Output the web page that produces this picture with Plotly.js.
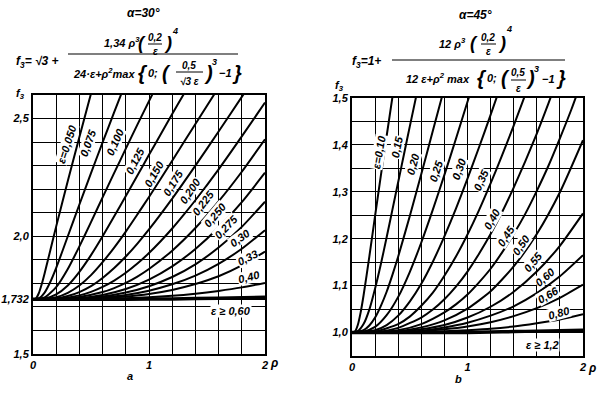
<!DOCTYPE html>
<html><head><meta charset="utf-8">
<script src="https://cdn.plot.ly/plotly-3.0.1.min.js"></script>
<style>html,body{margin:0;padding:0;background:#fff}#chart{width:603px;height:394px}</style>
</head><body><div id="chart"></div>
<script>
// ---------- DATA ----------
// Panel a (alpha = 30 deg): curve labels, rho values, f3 values
const leftLabels = ['ε=0,050','0,075','0,100','0,125','0,150','0,175','0,200','0,225','0,250','0,275','0,30','0,33','0,40','ε ≥ 0,60'];
const leftRho = [
  [0,0.025,0.05,0.075,0.1,0.125,0.15,0.2,0.3,0.4,0.5,0.55],
  [0,0.05,0.1,0.15,0.2,0.25,0.3,0.4,0.5,0.6,0.7,0.8],
  [0,0.1,0.2,0.3,0.4,0.5,0.6,0.7,0.8,0.9,1.0,1.1],
  [0,0.1,0.2,0.3,0.4,0.5,0.6,0.7,0.8,0.9,1.0,1.1,1.2,1.3,1.4],
  [0,0.1,0.2,0.3,0.4,0.5,0.6,0.7,0.8,0.9,1.0,1.2,1.4,1.6],
  [0,0.2,0.3,0.4,0.5,0.6,0.7,0.8,0.9,1.0,1.2,1.4,1.6,1.8,2.0],
  [0,0.2,0.4,0.5,0.6,0.7,0.8,0.9,1.0,1.1,1.2,1.3,1.4,1.6,1.8,2.0],
  [0,0.2,0.4,0.6,0.7,0.8,0.9,1.0,1.2,1.4,1.6,1.8,2.0],
  [0,0.2,0.4,0.6,0.8,1.0,1.2,1.4,1.6,1.8,2.0],
  [0,0.2,0.4,0.6,0.8,1.0,1.2,1.4,1.6,1.8,2.0],
  [0,0.4,0.6,0.8,1.0,1.2,1.4,1.6,1.8,2.0],
  [0,0.4,0.6,0.8,1.0,1.2,1.4,1.6,1.8,2.0],
  [0,0.4,0.8,1.0,1.2,1.4,1.6,1.8,2.0],
  [0,0.8,1.2,1.6,2.0]
];
const leftF = [
  [1.732,1.736,1.758,1.796,1.842,1.892,1.942,2.042,2.235,2.422,2.606,2.698],
  [1.732,1.736,1.761,1.807,1.866,1.932,2.000,2.135,2.268,2.399,2.527,2.654],
  [1.732,1.740,1.784,1.861,1.957,2.060,2.165,2.269,2.372,2.474,2.574,2.674],
  [1.732,1.735,1.753,1.791,1.849,1.920,2.000,2.085,2.171,2.258,2.346,2.432,2.519,2.604,2.689],
  [1.732,1.733,1.741,1.760,1.791,1.835,1.890,1.952,2.020,2.093,2.167,2.321,2.477,2.632],
  [1.732,1.736,1.746,1.763,1.788,1.823,1.865,1.914,1.969,2.029,2.160,2.300,2.445,2.592,2.739],
  [1.732,1.734,1.749,1.764,1.785,1.812,1.845,1.884,1.929,1.979,2.033,2.092,2.153,2.284,2.424,2.568],
  [1.732,1.733,1.742,1.763,1.780,1.802,1.829,1.861,1.939,2.035,2.148,2.274,2.412],
  [1.732,1.733,1.738,1.751,1.776,1.816,1.872,1.946,2.037,2.145,2.270],
  [1.732,1.733,1.736,1.744,1.761,1.788,1.827,1.881,1.952,2.040,2.147],
  [1.732,1.734,1.740,1.751,1.769,1.796,1.833,1.883,1.947,2.026],
  [1.732,1.733,1.737,1.744,1.755,1.772,1.797,1.830,1.876,1.935],
  [1.732,1.733,1.737,1.741,1.747,1.756,1.768,1.783,1.802],
  [1.732,1.7326,1.734,1.7367,1.741]
];
// Panel b (alpha = 45 deg)
const rightLabels = ['ε=0,10','0,15','0,20','0,25','0,30','0,35','0,40','0,45','0,50','0,55','0,60','0,66','0,80','ε ≥ 1,2'];
const rightRho = [
  [0,0.025,0.05,0.075,0.1,0.15,0.2,0.25,0.3,0.35,0.4],
  [0,0.05,0.1,0.15,0.2,0.25,0.3,0.35,0.4,0.45,0.5,0.6],
  [0,0.1,0.15,0.2,0.25,0.3,0.35,0.4,0.5,0.6,0.7,0.8],
  [0,0.1,0.2,0.3,0.4,0.5,0.6,0.7,0.8,0.9,1.0,1.1],
  [0,0.2,0.3,0.4,0.5,0.6,0.7,0.8,0.9,1.0,1.1,1.2,1.3],
  [0,0.2,0.4,0.5,0.6,0.7,0.8,0.9,1.0,1.1,1.2,1.3,1.4,1.5],
  [0,0.2,0.4,0.6,0.7,0.8,0.9,1.0,1.1,1.2,1.3,1.4,1.5,1.6,1.7,1.8],
  [0,0.2,0.4,0.6,0.8,0.9,1.0,1.1,1.2,1.3,1.4,1.5,1.6,1.7,1.8,1.9,2.0],
  [0,0.2,0.4,0.6,0.8,1.0,1.2,1.4,1.6,1.8,2.0],
  [0,0.2,0.4,0.6,0.8,1.0,1.2,1.4,1.6,1.8,2.0],
  [0,0.2,0.4,0.6,0.8,1.0,1.2,1.4,1.6,1.8,2.0],
  [0,0.2,0.4,0.6,0.8,1.0,1.2,1.4,1.6,1.8,2.0],
  [0,0.2,0.4,0.6,0.8,1.0,1.2,1.4,1.6,1.8,2.0],
  [0,0.2,0.4,0.6,0.8,1.0,1.2,1.4,1.6,1.8,2.0]
];
const rightF = [
  [1,1.002,1.016,1.043,1.079,1.162,1.249,1.335,1.419,1.502,1.584],
  [1,1.003,1.018,1.049,1.094,1.146,1.203,1.262,1.321,1.380,1.439,1.555],
  [1,1.005,1.015,1.032,1.057,1.087,1.123,1.162,1.248,1.338,1.430,1.522],
  [1,1.002,1.012,1.037,1.076,1.129,1.192,1.262,1.336,1.413,1.492,1.570],
  [1,1.005,1.016,1.036,1.066,1.104,1.151,1.205,1.264,1.328,1.395,1.464,1.535],
  [1,1.002,1.018,1.034,1.057,1.085,1.121,1.162,1.209,1.261,1.318,1.378,1.441,1.507],
  [1,1.001,1.010,1.032,1.049,1.071,1.098,1.130,1.168,1.210,1.257,1.309,1.365,1.424,1.488,1.555],
  [1,1.001,1.005,1.018,1.043,1.060,1.081,1.107,1.136,1.171,1.210,1.253,1.302,1.355,1.414,1.476,1.544],
  [1,1.000,1.003,1.011,1.026,1.051,1.088,1.141,1.210,1.299,1.410],
  [1,1.000,1.002,1.007,1.016,1.032,1.055,1.087,1.130,1.185,1.254],
  [1,1.000,1.001,1.004,1.011,1.021,1.036,1.056,1.084,1.120,1.165],
  [1,1.000,1.001,1.003,1.007,1.013,1.022,1.035,1.052,1.074,1.102],
  [1,1.000,1.000,1.001,1.0025,1.005,1.008,1.013,1.020,1.028,1.039],
  [1,1,1,1,1,1,1.001,1.002,1.003,1.004,1.005]
];
// Tick labels
const leftXTicks = [0,0.2,0.4,0.6,0.8,1,1.2,1.4,1.6,1.8,2];
const leftXText  = ['0',' ',' ',' ',' ','1',' ',' ',' ',' ','2'];
const leftYTicks = [1.5,1.6,1.7,1.732,1.8,1.9,2.0,2.1,2.2,2.3,2.4,2.5,2.6];
const leftYText  = ['1,5',' ',' ','1,732',' ',' ','2,0',' ',' ',' ',' ','2,5',' '];
const rightXTicks = [0,0.2,0.4,0.6,0.8,1,1.2,1.4,1.6,1.8,2];
const rightXText  = ['0',' ',' ',' ',' ','1',' ',' ',' ',' ','2'];
const rightYTicks = [0.95,1.0,1.05,1.1,1.15,1.2,1.25,1.3,1.35,1.4,1.45,1.5];
const rightYText  = [' ','1,0',' ','1,1',' ','1,2',' ','1,3',' ','1,4',' ','1,5'];

// ---------- DRAWING ----------
const W = 603, H = 394;
const FF = "'Liberation Sans',Arial,sans-serif";
const px = x => x / W, py = y => 1 - y / H;

function ann(text, x, y, size, extra) {
  return Object.assign({
    text: text, xref: 'paper', yref: 'paper', x: px(x), y: py(y),
    xanchor: 'center', yanchor: 'middle', showarrow: false,
    font: {family: FF, size: size || 11, color: '#000', style: 'italic', weight: 'bold'}
  }, extra || {});
}
function hline(x0, x1, y, w) {
  return {type: 'line', xref: 'paper', yref: 'paper', x0: px(x0), x1: px(x1), y0: py(y), y1: py(y),
          line: {color: '#000', width: w || 1}};
}

const traces = [];
leftRho.forEach((r, i) => traces.push({
  x: r, y: leftF[i], xaxis: 'x', yaxis: 'y', mode: 'lines', hoverinfo: 'skip',
  line: {color: '#000', width: i === leftRho.length - 1 ? 3.5 : 2, shape: 'spline', smoothing: 0.6}
}));
rightRho.forEach((r, i) => traces.push({
  x: r, y: rightF[i], xaxis: 'x2', yaxis: 'y2', mode: 'lines', hoverinfo: 'skip',
  line: {color: '#000', width: i === rightRho.length - 1 ? 3.5 : 2, shape: 'spline', smoothing: 0.6}
}));

// label placements (pixel centre, angle)
const leftLabelPos = [[67,144,-72],[88,143,-70],[115,142,-66],[135,161,-63],[154,174,-60],[173,183,-58],
  [190,191,-56],[203,203,-53],[215,215,-50],[226,227,-46],[240,238,-36],[247,258,-27],[249,277,-14],[231,311,0]];
const rightLabelPos = [[379,152,-80],[397,147,-78],[413,164,-75],[436,171,-72],[459,169,-70],[481,180,-66],
  [492,219,-60],[506,236,-57],[521,245,-55],[533,262,-50],[545,277,-40],[548,295,-30],[559,313,-15],[542,345,0]];

const annotations = [];
const lab = {bgcolor: '#fff', borderpad: 0};
leftLabels.forEach((t, i) => { const p = leftLabelPos[i]; annotations.push(ann(t, p[0], p[1], 11, Object.assign({textangle: p[2]}, lab))); });
rightLabels.forEach((t, i) => { const p = rightLabelPos[i]; annotations.push(ann(t, p[0], p[1], 11, Object.assign({textangle: p[2]}, lab))); });

// formula a
annotations.push(
  ann('α=30°', 143, 13, 12),
  ann('f<sub>3</sub>= √3 +', 37, 62, 12),
  ann('1,34 ρ<sup>3</sup>', 122, 42, 11),
  ann('(', 142, 43, 18), ann('0,2', 155, 37, 10), ann('ε', 155, 51, 10), ann(')', 168, 43, 18), ann('4', 175, 31, 9),
  ann('24·ε+ρ<sup>2</sup>max', 104, 73, 11),
  ann('{', 143, 73, 20), ann('0;', 153, 73, 11), ann('(', 166, 73, 20),
  ann('0,5', 189, 66, 10), ann('√3 ε', 189, 81, 10), ann(')', 208, 73, 20), ann('3', 214, 62, 9),
  ann('−1', 225, 73, 11), ann('}', 237, 73, 20)
);
// formula b
annotations.push(
  ann('α=45°', 475, 15, 12),
  ann('f<sub>3</sub>=1+', 366, 62, 12),
  ann('12 ρ<sup>3</sup>', 452, 43, 11),
  ann('(', 474, 43, 18), ann('0,2', 488, 37, 10), ann('ε', 488, 51, 10), ann(')', 502, 43, 18), ann('4', 509, 29, 9),
  ann('12 ε+ρ<sup>2</sup> max', 438, 78, 11),
  ann('{', 482, 78, 20), ann('0;', 492, 78, 11), ann('(', 505, 78, 20),
  ann('0,5', 518, 73, 10), ann('ε', 518, 88, 10), ann(')', 530, 78, 20), ann('3', 536, 69, 9),
  ann('−1', 548, 79, 11), ann('}', 561, 78, 20)
);
// axis titles and captions
annotations.push(
  ann('f<sub>3</sub>', 20, 94, 11), ann('f<sub>3</sub>', 339, 86, 11),
  ann('ρ', 274, 363, 12), ann('ρ', 592, 368, 12),
  ann('a', 130, 376, 11), ann('b', 458, 379, 11)
);

const shapes = [
  hline(68, 238, 54, 1.2), hline(148, 162, 44, 1), hline(176, 203, 72, 1),
  hline(392, 565, 60, 1.2), hline(481, 496, 44, 1), hline(511, 526, 80, 1)
];

function axis(domain, range, tv, tt) {
  return {domain: domain, range: range, tickmode: 'array', tickvals: tv, ticktext: tt,
    showgrid: true, gridcolor: '#000', gridwidth: 1, zeroline: false,
    showline: true, mirror: true, linecolor: '#000', linewidth: 2, ticks: '',
    tickfont: {family: FF, size: 11, color: '#000', style: 'italic', weight: 'bold'}, fixedrange: true};
}

const layout = {
  width: W, height: H, margin: {l: 0, r: 0, t: 0, b: 0},
  paper_bgcolor: '#fff', plot_bgcolor: '#fff', showlegend: false,
  xaxis: axis([33/W, 265/W], [0, 2], leftXTicks, leftXText),
  yaxis: axis([1-354/H, 1-95/H], [1.5, 2.6], leftYTicks, leftYText),
  xaxis2: Object.assign(axis([352/W, 583/W], [0, 2], rightXTicks, rightXText), {anchor: 'y2'}),
  yaxis2: Object.assign(axis([1-356/H, 1-98/H], [0.95, 1.5], rightYTicks, rightYText), {anchor: 'x2'}),
  annotations: annotations, shapes: shapes
};
layout.xaxis.anchor = 'y';
layout.yaxis.anchor = 'x';

Plotly.newPlot('chart', traces, layout, {staticPlot: true, displayModeBar: false});
</script></body></html>
